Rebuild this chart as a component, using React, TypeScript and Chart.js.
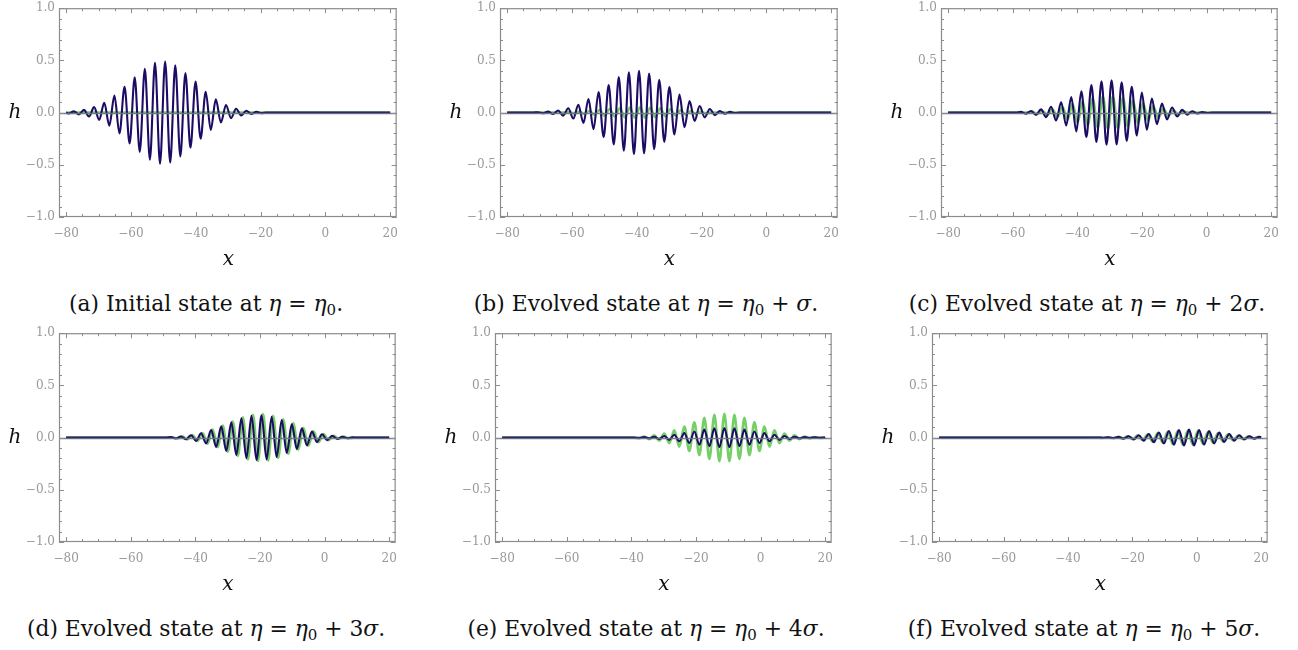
import React, { useEffect, useRef } from 'react';
import { Chart, registerables } from 'chart.js';

Chart.register(...registerables);

// ---------- axes ----------
const X_MIN = -82.2;
const X_MAX = 22.0;
const xTicks = [-80, -60, -40, -20, 0, 20];
const xMinorTicks = [-80, -75, -70, -65, -60, -55, -50, -45, -40, -35, -30, -25, -20, -15, -10, -5, 0, 5, 10, 15, 20];
const yTicks = [-1, -0.5, 0, 0.5, 1];
const yMinorTicks = [-1, -0.9, -0.8, -0.7, -0.6, -0.5, -0.4, -0.3, -0.2, -0.1, 0, 0.1, 0.2, 0.3, 0.4, 0.5, 0.6, 0.7, 0.8, 0.9, 1];

// ---------- data (x, h) ----------
const darkA: [number, number][] = [[-80,0],[-79.19,-0.008],[-77.62,0.012],[-76.06,-0.017],[-74.49,0.026],[-72.93,-0.037],[-71.36,0.052],[-69.80,-0.07],[-68.23,0.095],[-66.67,-0.125],[-65.10,0.163],[-63.54,-0.20],[-61.97,0.246],[-60.41,-0.295],[-58.84,0.337],[-57.28,-0.377],[-55.71,0.42],[-54.15,-0.451],[-52.58,0.477],[-51.02,-0.489],[-49.45,0.489],[-47.89,-0.478],[-46.32,0.452],[-44.76,-0.42],[-43.19,0.38],[-41.63,-0.337],[-40.06,0.297],[-38.50,-0.25],[-36.93,0.20],[-35.37,-0.165],[-33.80,0.127],[-32.24,-0.095],[-30.67,0.073],[-29.11,-0.053],[-27.54,0.037],[-25.98,-0.027],[-24.41,0.018],[-22.85,-0.012],[-21.28,0.008],[-19.72,-0.005],[-18.2,0],[20,0]];
const greenA: [number, number][] = [[-80,0],[20,0]];

const darkB: [number, number][] = [[-80,0],[-72,0],[-70.50,0.004],[-68.94,-0.006],[-67.38,0.009],[-65.82,-0.014],[-64.26,0.02],[-62.70,-0.029],[-61.14,0.042],[-59.58,-0.057],[-58.02,0.075],[-56.46,-0.1],[-54.90,0.13],[-53.34,-0.16],[-51.78,0.196],[-50.22,-0.234],[-48.66,0.265],[-47.10,-0.305],[-45.54,0.34],[-43.98,-0.365],[-42.42,0.385],[-40.86,-0.398],[-39.30,0.40],[-37.74,-0.39],[-36.18,0.375],[-34.62,-0.35],[-33.06,0.315],[-31.50,-0.28],[-29.94,0.245],[-28.38,-0.21],[-26.82,0.172],[-25.26,-0.14],[-23.70,0.11],[-22.14,-0.08],[-20.58,0.063],[-19.02,-0.046],[-17.46,0.034],[-15.90,-0.024],[-14.34,0.016],[-12.78,-0.011],[-11.22,0.007],[-9.66,-0.004],[-8.1,0],[20,0]];
const greenB: [number, number][] = [[-80,0],[-62.4,0],[-60.84,0.005],[-59.28,-0.007],[-57.72,0.009],[-56.16,-0.012],[-54.6,0.016],[-53.04,-0.02],[-51.48,0.025],[-49.92,-0.03],[-48.36,0.034],[-46.8,-0.038],[-45.24,0.042],[-43.68,-0.046],[-42.12,0.048],[-40.56,-0.05],[-39.0,0.05],[-37.44,-0.049],[-35.88,0.047],[-34.32,-0.044],[-32.76,0.04],[-31.2,-0.035],[-29.64,0.031],[-28.08,-0.026],[-26.52,0.021],[-24.96,-0.017],[-23.4,0.013],[-21.84,-0.01],[-20.28,0.008],[-18.72,-0.005],[-17.1,0],[20,0]];

const darkC: [number, number][] = [[-80,0],[-59,0],[-57.48,0.007],[-55.92,-0.011],[-54.36,0.016],[-52.80,-0.022],[-51.24,0.031],[-49.68,-0.043],[-48.12,0.056],[-46.56,-0.076],[-45.00,0.099],[-43.44,-0.124],[-41.88,0.15],[-40.32,-0.18],[-38.76,0.205],[-37.20,-0.234],[-35.64,0.264],[-34.08,-0.282],[-32.52,0.30],[-30.96,-0.308],[-29.40,0.31],[-27.84,-0.304],[-26.28,0.291],[-24.72,-0.271],[-23.16,0.248],[-21.60,-0.22],[-20.04,0.192],[-18.48,-0.164],[-16.92,0.135],[-15.36,-0.112],[-13.80,0.087],[-12.24,-0.065],[-10.68,0.049],[-9.12,-0.037],[-7.56,0.026],[-6.00,-0.019],[-4.44,0.013],[-2.88,-0.009],[-1.32,0.006],[0.24,-0.004],[1.8,0],[20,0]];
const greenC: [number, number][] = [[-80,0],[-55.5,0],[-53.96,0.009],[-52.40,-0.012],[-50.84,0.018],[-49.28,-0.024],[-47.72,0.032],[-46.16,-0.042],[-44.60,0.054],[-43.04,-0.067],[-41.48,0.081],[-39.92,-0.095],[-38.36,0.108],[-36.80,-0.122],[-35.24,0.135],[-33.68,-0.144],[-32.12,0.152],[-30.56,-0.155],[-29.00,0.154],[-27.44,-0.15],[-25.88,0.142],[-24.32,-0.132],[-22.76,0.119],[-21.20,-0.104],[-19.64,0.091],[-18.08,-0.077],[-16.52,0.063],[-14.96,-0.051],[-13.40,0.039],[-11.84,-0.029],[-10.28,0.022],[-8.72,-0.016],[-7.16,0.01],[-5.6,0],[20,0]];

const darkD: [number, number][] = [[-80,0],[-49.1,0],[-47.58,0.005],[-46.02,-0.008],[-44.46,0.011],[-42.90,-0.016],[-41.34,0.023],[-39.78,-0.031],[-38.22,0.041],[-36.66,-0.055],[-35.10,0.072],[-33.54,-0.089],[-31.98,0.108],[-30.42,-0.129],[-28.86,0.146],[-27.30,-0.167],[-25.74,0.185],[-24.18,-0.198],[-22.62,0.209],[-21.06,-0.214],[-19.50,0.214],[-17.94,-0.209],[-16.38,0.2],[-14.82,-0.186],[-13.26,0.169],[-11.70,-0.148],[-10.14,0.13],[-8.58,-0.11],[-7.02,0.09],[-5.46,-0.074],[-3.90,0.057],[-2.34,-0.042],[-0.78,0.032],[0.78,-0.024],[2.34,0.017],[3.90,-0.012],[5.46,0.008],[7.02,-0.006],[8.58,0.003],[10.1,0],[20,0]];
const greenD: [number, number][] = [[-80,0],[-47.1,0],[-45.57,-0.008],[-44.01,0.012],[-42.45,-0.017],[-40.89,0.024],[-39.33,-0.033],[-37.77,0.043],[-36.21,-0.059],[-34.65,0.076],[-33.09,-0.093],[-31.53,0.115],[-29.97,-0.135],[-28.41,0.154],[-26.85,-0.176],[-25.29,0.194],[-23.73,-0.208],[-22.17,0.219],[-20.61,-0.224],[-19.05,0.225],[-17.49,-0.219],[-15.93,0.208],[-14.37,-0.195],[-12.81,0.176],[-11.25,-0.154],[-9.69,0.136],[-8.13,-0.115],[-6.57,0.095],[-5.01,-0.077],[-3.45,0.06],[-1.89,-0.044],[-0.33,0.033],[1.23,-0.025],[2.79,0.018],[4.35,-0.012],[5.91,0.009],[7.47,-0.006],[9.0,0],[20,0]];

const darkE: [number, number][] = [[-80,0],[-39.1,0],[-37.55,-0.003],[-36.0,0.0043],[-34.45,-0.0062],[-32.9,0.0086],[-31.35,-0.012],[-29.8,0.0158],[-28.25,-0.0214],[-26.7,0.028],[-25.15,-0.035],[-23.6,0.043],[-22.05,-0.0515],[-20.5,0.059],[-18.95,-0.068],[-17.4,0.076],[-15.85,-0.082],[-14.3,0.088],[-12.75,-0.091],[-11.2,0.092],[-9.65,-0.091],[-8.1,0.088],[-6.55,-0.082],[-5.0,0.076],[-3.45,-0.068],[-1.9,0.059],[-0.35,-0.0515],[1.2,0.043],[2.75,-0.035],[4.3,0.028],[5.85,-0.0214],[7.4,0.0158],[8.95,-0.012],[10.5,0.0086],[12.05,-0.0062],[13.6,0.0043],[15.15,-0.003],[16.7,0.002],[18.25,-0.0013],[20,0]];
const greenE: [number, number][] = [[-80,0],[-39.1,0],[-37.55,-0.007],[-36.0,0.011],[-34.45,-0.015],[-32.9,0.021],[-31.35,-0.03],[-29.8,0.039],[-28.25,-0.053],[-26.7,0.07],[-25.15,-0.087],[-23.6,0.106],[-22.05,-0.128],[-20.5,0.147],[-18.95,-0.168],[-17.4,0.189],[-15.85,-0.204],[-14.3,0.218],[-12.75,-0.226],[-11.2,0.228],[-9.65,-0.226],[-8.1,0.218],[-6.55,-0.204],[-5.0,0.189],[-3.45,-0.168],[-1.9,0.147],[-0.35,-0.128],[1.2,0.106],[2.75,-0.087],[4.3,0.07],[5.85,-0.053],[7.4,0.039],[8.95,-0.03],[10.5,0.021],[12.05,-0.015],[13.6,0.011],[15.15,-0.007],[16.7,0.005],[18.25,-0.003],[20,0]];

const darkF: [number, number][] = [[-80,0],[-32.1,0],[-30.48,0.0015],[-28.92,-0.0024],[-27.36,0.0035],[-25.80,-0.005],[-24.24,0.0071],[-22.68,-0.0099],[-21.12,0.013],[-19.56,-0.0175],[-18.00,0.023],[-16.44,-0.029],[-14.88,0.035],[-13.32,-0.043],[-11.76,0.049],[-10.20,-0.056],[-8.64,0.063],[-7.08,-0.068],[-5.52,0.073],[-3.96,-0.075],[-2.40,0.076],[-0.84,-0.075],[0.72,0.072],[2.28,-0.067],[3.84,0.062],[5.40,-0.055],[6.96,0.048],[8.52,-0.042],[10.08,0.035],[11.64,-0.029],[13.20,0.022],[14.76,-0.017],[16.32,0.013],[17.88,-0.0095],[19.44,0.007],[20,0.006]];
const greenF: [number, number][] = [[-80,0],[-32.4,0],[-30.83,0.0014],[-29.27,-0.0022],[-27.71,0.0032],[-26.15,-0.0045],[-24.59,0.0064],[-23.03,-0.0089],[-21.47,0.012],[-19.91,-0.016],[-18.35,0.021],[-16.79,-0.026],[-15.23,0.032],[-13.67,-0.039],[-12.11,0.044],[-10.55,-0.05],[-8.99,0.057],[-7.43,-0.061],[-5.87,0.066],[-4.31,-0.068],[-2.75,0.068],[-1.19,-0.068],[0.37,0.065],[1.93,-0.06],[3.49,0.056],[5.05,-0.05],[6.61,0.043],[8.17,-0.038],[9.73,0.032],[11.29,-0.026],[12.85,0.02],[14.41,-0.015],[15.97,0.012],[17.53,-0.0086],[19.09,0.0063],[20,0.001]];

const captionLetters = ['a', 'b', 'c', 'd', 'e', 'f'];
const captionTexts = ['Initial state at', 'Evolved state at', 'Evolved state at', 'Evolved state at', 'Evolved state at', 'Evolved state at'];
const sigmaMultipliers = ['', '', '2', '3', '4', '5'];

// ---------- style ----------
const DARK = 'rgb(30, 12, 100)';
const GREEN = 'rgb(118, 206, 104)';
const FRAME = '#8c8c8c';
const TICK_TEXT = '#999999';
const SERIF = "'DejaVu Serif', 'Liberation Serif', serif";

const fmtX = (v: number) => (v < 0 ? '\u2212' + Math.abs(v) : String(v));
const fmtY = (v: number) => (v < 0 ? '\u2212' + Math.abs(v).toFixed(1) : v.toFixed(1));

const framePlugin = {
  id: 'mmaFrame',
  afterDatasetsDraw(chart: any) {
    const { ctx, chartArea: a, scales } = chart;
    const xs = scales.x;
    const ys = scales.y;
    ctx.save();
    // x axis at h = 0
    const y0 = Math.round(ys.getPixelForValue(0)) + 0.5;
    ctx.strokeStyle = 'rgba(108,116,134,0.92)';
    ctx.lineWidth = 1.6;
    ctx.beginPath();
    ctx.moveTo(a.left, y0);
    ctx.lineTo(a.right, y0);
    ctx.stroke();
    // frame
    ctx.strokeStyle = FRAME;
    ctx.lineWidth = 1.2;
    ctx.strokeRect(a.left + 0.5, a.top + 0.5, a.right - a.left - 1, a.bottom - a.top - 1);
    // ticks (inward, all four sides)
    ctx.lineWidth = 1;
    ctx.beginPath();
    for (const v of xMinorTicks) {
      const len = xTicks.includes(v) ? 5 : 3;
      const px = Math.round(xs.getPixelForValue(v)) + 0.5;
      ctx.moveTo(px, a.bottom);
      ctx.lineTo(px, a.bottom - len);
      ctx.moveTo(px, a.top);
      ctx.lineTo(px, a.top + len);
    }
    for (const v of yMinorTicks) {
      const major = yTicks.some((t) => Math.abs(t - v) < 1e-9);
      const len = major ? 5 : 3;
      const py = Math.round(ys.getPixelForValue(v)) + 0.5;
      ctx.moveTo(a.left, py);
      ctx.lineTo(a.left + len, py);
      ctx.moveTo(a.right, py);
      ctx.lineTo(a.right - len, py);
    }
    ctx.stroke();
    ctx.restore();
  },
};

type PanelProps = { frame: [number, number, number, number]; dark: [number, number][]; green: [number, number][] };

function Panel({ frame, dark, green }: PanelProps) {
  const ref = useRef<HTMLCanvasElement | null>(null);
  const [L, T, R, B] = frame;
  const w = R - L + 70;
  const h = B - T + 40;
  useEffect(() => {
    if (!ref.current) return;
    const tickFont = { family: SERIF, size: 12 };
    const chart = new Chart(ref.current, {
      type: 'line',
      data: {
        datasets: [
          {
            data: dark.map(([x, y]) => ({ x, y })),
            borderColor: DARK,
            borderWidth: 2.1,
            pointRadius: 0,
            fill: false,
            cubicInterpolationMode: 'monotone',
          },
          {
            data: green.map(([x, y]) => ({ x, y })),
            borderColor: GREEN,
            borderWidth: 2.6,
            pointRadius: 0,
            fill: false,
            cubicInterpolationMode: 'monotone',
          },
        ],
      },
      options: {
        animation: false,
        responsive: false,
        devicePixelRatio: 1,
        events: [],
        layout: { padding: { left: 0, top: 10, right: 10, bottom: 0 } },
        plugins: { legend: { display: false }, tooltip: { enabled: false } },
        scales: {
          x: {
            type: 'linear',
            min: X_MIN,
            max: X_MAX,
            grid: { display: false, drawTicks: false },
            border: { display: false },
            ticks: { padding: 10, color: TICK_TEXT, font: tickFont, maxRotation: 0, autoSkip: false, callback: (v: any) => fmtX(Number(v)) },
            afterBuildTicks: (s: any) => {
              s.ticks = xTicks.map((v) => ({ value: v }));
            },
            afterFit: (s: any) => {
              s.height = 30;
            },
          },
          y: {
            type: 'linear',
            min: -1,
            max: 1,
            grid: { display: false, drawTicks: false },
            border: { display: false },
            ticks: { padding: 4, color: TICK_TEXT, font: tickFont, autoSkip: false, callback: (v: any) => fmtY(Number(v)) },
            afterBuildTicks: (s: any) => {
              s.ticks = yTicks.map((v) => ({ value: v }));
            },
            afterFit: (s: any) => {
              s.width = 60;
            },
          },
        },
      } as any,
      plugins: [framePlugin as any],
    });
    return () => chart.destroy();
  }, [dark, green]);
  return (
    <canvas
      ref={ref}
      width={w}
      height={h}
      style={{ position: 'absolute', left: L - 60, top: T - 10, width: w, height: h }}
    />
  );
}

const panels: { frame: [number, number, number, number]; dark: [number, number][]; green: [number, number][]; capX: number; capY: number }[] = [
  { frame: [59, 7, 398, 217], dark: darkA, green: greenA, capX: 206, capY: 305 },
  { frame: [500, 7, 839, 217], dark: darkB, green: greenB, capX: 646, capY: 305 },
  { frame: [941, 7, 1279, 217], dark: darkC, green: greenC, capX: 1087, capY: 305 },
  { frame: [59, 332, 397, 542], dark: darkD, green: greenD, capX: 206, capY: 630 },
  { frame: [495, 332, 833, 542], dark: darkE, green: greenE, capX: 646, capY: 630 },
  { frame: [932, 332, 1269, 542], dark: darkF, green: greenF, capX: 1084, capY: 630 },
];

export default function App() {
  return (
    <div style={{ position: 'absolute', left: 0, top: 0, width: 1298, height: 650, background: '#fff', overflow: 'hidden', fontFamily: SERIF }}>
      {panels.map((p, i) => {
        const [L, T, R, B] = p.frame;
        const cx = (L + R) / 2;
        return (
          <React.Fragment key={i}>
            <Panel frame={p.frame} dark={p.dark} green={p.green} />
            <div style={{ position: 'absolute', left: L - 44 - 20, top: (T + B) / 2 - 14, width: 40, textAlign: 'center', fontStyle: 'italic', fontSize: 20, lineHeight: '26px', color: '#111' }}>h</div>
            <div style={{ position: 'absolute', left: cx - 20, top: B + 43 - 15, width: 40, textAlign: 'center', fontStyle: 'italic', fontSize: 20, lineHeight: '26px', color: '#111' }}>x</div>
            <div style={{ position: 'absolute', left: p.capX - 250, top: p.capY - 14, width: 500, textAlign: 'center', fontSize: 21.8, lineHeight: '26px', color: '#111', whiteSpace: 'nowrap' }}>
              ({captionLetters[i]}) {captionTexts[i]} <i>η</i> = <i>η</i>
              <sub style={{ fontSize: 15, verticalAlign: '-4px', lineHeight: 0 }}>0</sub>
              {i > 0 ? (
                <>
                  {' '}+ {sigmaMultipliers[i]}
                  <i>σ</i>
                </>
              ) : null}
              .
            </div>
          </React.Fragment>
        );
      })}
    </div>
  );
}
